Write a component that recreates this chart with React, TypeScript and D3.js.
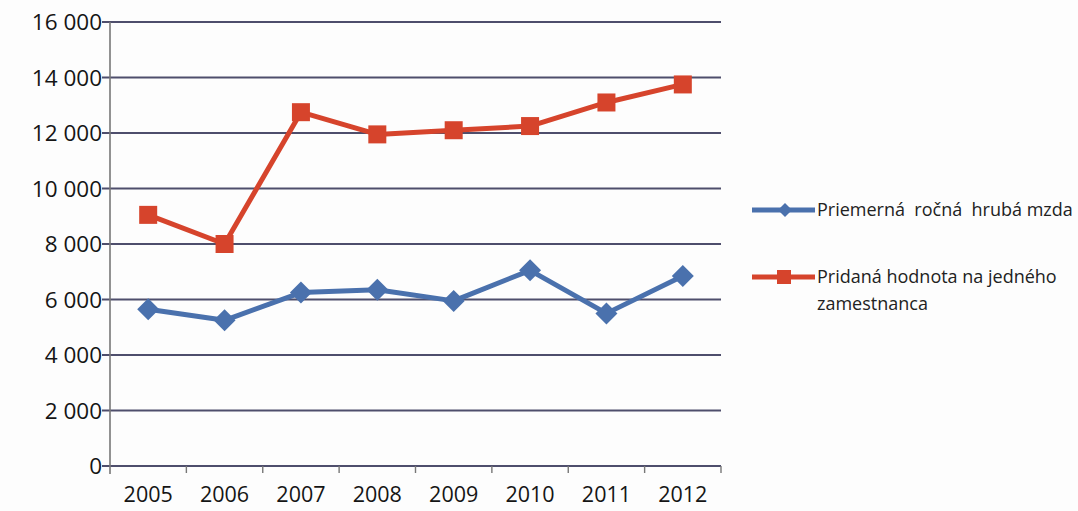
import { useEffect, useRef } from "react";
import { line, scaleBand, scaleLinear, select } from "d3";

const years = ["2005", "2006", "2007", "2008", "2009", "2010", "2011", "2012"];
const wage = [5650, 5250, 6250, 6350, 5950, 7050, 5500, 6850];
const addedValue = [9050, 8000, 12750, 11950, 12100, 12250, 13100, 13750];
const yTicks = [0, 2000, 4000, 6000, 8000, 10000, 12000, 14000, 16000];
const wageLabel = "Priemerná  ročná  hrubá mzda";
const addedLabel = ["Pridaná hodnota na jedného", "zamestnanca"];

const BLUE = "#4a71ad";
const RED = "#d6442c";
const FONT = "'Open Sans', 'Liberation Sans', sans-serif";

export default function App() {
  const ref = useRef<SVGSVGElement>(null);
  const width = 1078;
  const height = 511;

  useEffect(() => {
    if (!ref.current) return;
    const svg = select(ref.current);
    svg.selectAll("*").remove();

    const left = 110;
    const right = 721;
    const top = 22;
    const bottom = 466;

    const x = scaleBand<string>().domain(years).range([left, right]);
    const y = scaleLinear().domain([0, 16000]).range([bottom, top]);
    const cx = (i: number) => (x(years[i]) as number) + x.bandwidth() / 2;

    svg.append("rect").attr("width", width).attr("height", height).attr("fill", "#fdfdfd");

    // gridlines
    svg
      .append("g")
      .selectAll("line")
      .data(yTicks)
      .join("line")
      .attr("x1", left - 8)
      .attr("x2", right)
      .attr("y1", (d) => y(d))
      .attr("y2", (d) => y(d))
      .attr("stroke", "#4e4e6c")
      .attr("stroke-width", 1.8);

    // y labels
    svg
      .append("g")
      .selectAll("text")
      .data(yTicks)
      .join("text")
      .attr("x", left - 8)
      .attr("y", (d) => y(d))
      .attr("dy", "0.36em")
      .attr("text-anchor", "end")
      .attr("font-family", FONT)
      .attr("font-size", 22.5)
      .attr("fill", "#151515")
      .text((d) => (d >= 1000 ? `${Math.floor(d / 1000)} ${String(d % 1000).padStart(3, "0")}` : `${d}`));

    // y axis line
    svg
      .append("line")
      .attr("x1", left)
      .attr("x2", left)
      .attr("y1", top)
      .attr("y2", bottom + 8)
      .attr("stroke", "#777")
      .attr("stroke-width", 1.6);

    // x ticks
    const tickXs = years.map((d) => x(d) as number).concat([right]);
    svg
      .append("g")
      .selectAll("line")
      .data(tickXs.slice(1))
      .join("line")
      .attr("x1", (d) => d)
      .attr("x2", (d) => d)
      .attr("y1", bottom)
      .attr("y2", bottom + 7)
      .attr("stroke", "#777")
      .attr("stroke-width", 1.4);

    // x labels
    svg
      .append("g")
      .selectAll("text")
      .data(years)
      .join("text")
      .attr("x", (_, i) => cx(i))
      .attr("y", 502)
      .attr("text-anchor", "middle")
      .attr("font-family", FONT)
      .attr("font-size", 21.5)
      .attr("fill", "#151515")
      .text((d) => d);

    const path = line<number>()
      .x((_, i) => cx(i))
      .y((d) => y(d));

    // red series
    svg
      .append("path")
      .datum(addedValue)
      .attr("d", path)
      .attr("fill", "none")
      .attr("stroke", RED)
      .attr("stroke-width", 5)
      .attr("stroke-linejoin", "round");
    svg
      .append("g")
      .selectAll("rect")
      .data(addedValue)
      .join("rect")
      .attr("x", (_, i) => cx(i) - 9)
      .attr("y", (d) => y(d) - 9)
      .attr("width", 18)
      .attr("height", 18)
      .attr("fill", RED);

    // blue series
    svg
      .append("path")
      .datum(wage)
      .attr("d", path)
      .attr("fill", "none")
      .attr("stroke", BLUE)
      .attr("stroke-width", 5)
      .attr("stroke-linejoin", "round");
    svg
      .append("g")
      .selectAll("path")
      .data(wage)
      .join("path")
      .attr("d", (d, i) => {
        const px = cx(i);
        const py = y(d);
        const r = 11;
        return `M${px},${py - r}L${px + r},${py}L${px},${py + r}L${px - r},${py}Z`;
      })
      .attr("fill", BLUE);

    // legend
    const lg = svg.append("g");
    lg.append("line")
      .attr("x1", 752)
      .attr("x2", 815)
      .attr("y1", 210)
      .attr("y2", 210)
      .attr("stroke", BLUE)
      .attr("stroke-width", 5);
    lg.append("path")
      .attr("d", "M785,203L792,210L785,217L778,210Z")
      .attr("fill", BLUE);
    lg.append("text")
      .attr("x", 817)
      .attr("y", 210)
      .attr("dy", "0.36em")
      .attr("font-family", FONT)
      .attr("font-size", 18)
      .attr("fill", "#222")
      .attr("xml:space", "preserve")
      .style("white-space", "pre")
      .text(wageLabel);

    lg.append("line")
      .attr("x1", 752)
      .attr("x2", 815)
      .attr("y1", 277)
      .attr("y2", 277)
      .attr("stroke", RED)
      .attr("stroke-width", 5);
    lg.append("rect")
      .attr("x", 777)
      .attr("y", 270)
      .attr("width", 14)
      .attr("height", 14)
      .attr("fill", RED);
    lg.selectAll("text.red")
      .data(addedLabel)
      .join("text")
      .attr("class", "red")
      .attr("x", 817)
      .attr("y", (_, i) => 277 + i * 27)
      .attr("dy", "0.36em")
      .attr("font-family", FONT)
      .attr("font-size", 18)
      .attr("fill", "#222")
      .text((d) => d);
  }, []);

  return <svg ref={ref} width={width} height={height} style={{ position: "absolute", left: 0, top: 0 }} />;
}
